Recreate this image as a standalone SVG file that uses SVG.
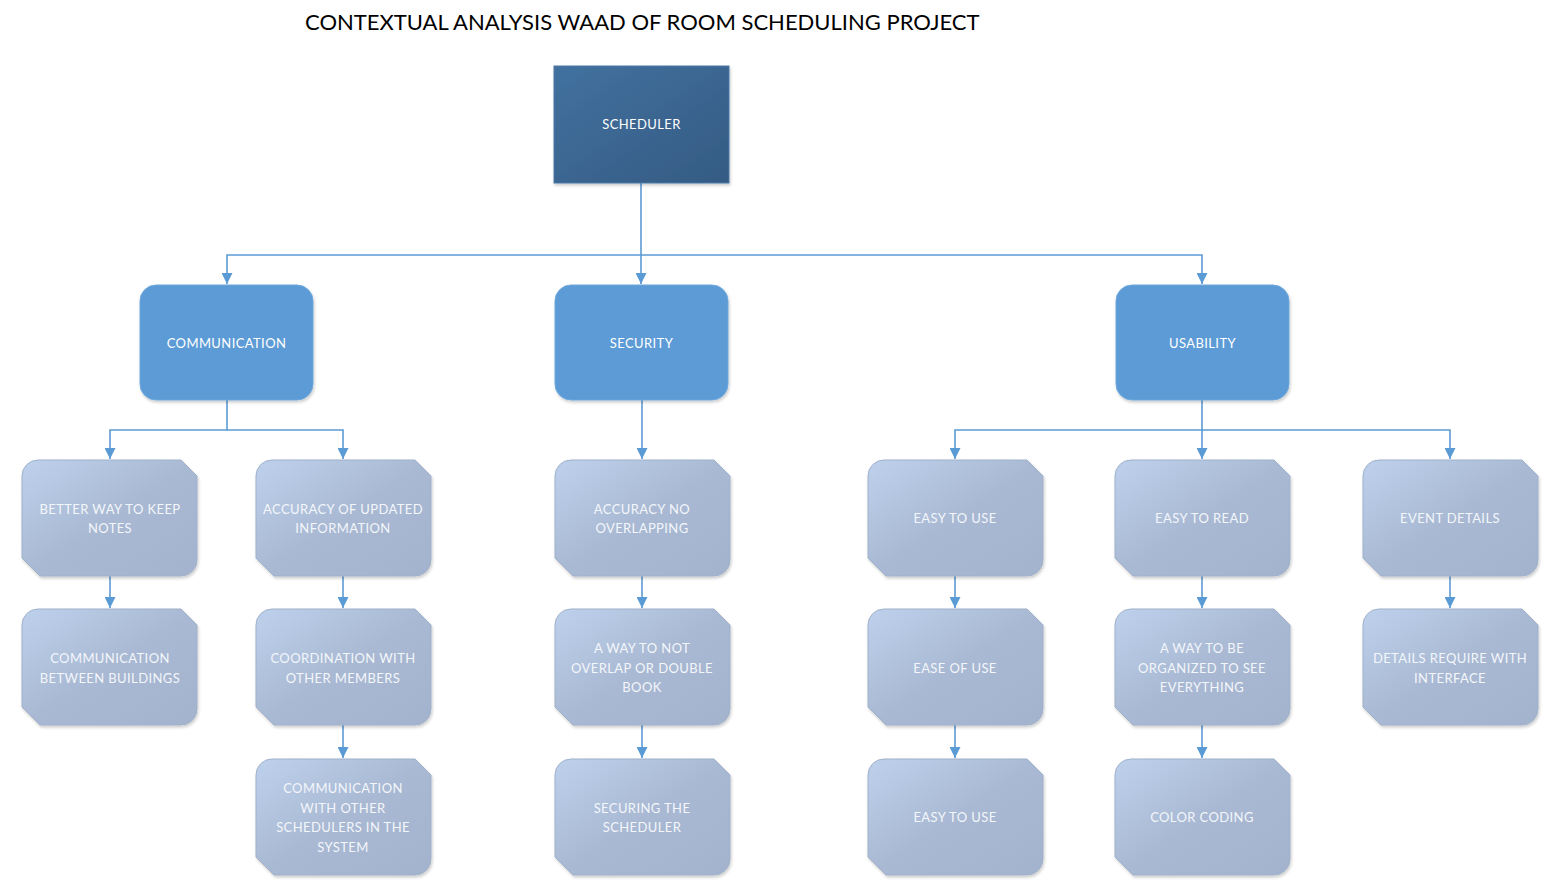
<svg xmlns="http://www.w3.org/2000/svg" width="1559" height="896" viewBox="0 0 1559 896">
<style>
.t{font-family:Lato,"Open Sans","Liberation Sans",sans-serif;font-size:13px;letter-spacing:0.4px;text-anchor:middle;fill:#f3f6fa}
.tw{fill:#ffffff}
.title{font-family:Lato,"Open Sans","Liberation Sans",sans-serif;font-size:22px;fill:#000}
.c{fill:none;stroke:#5b9bd5;stroke-width:1.6}
.g{fill:url(#gg);stroke:#a0b1ca;stroke-width:1}
.b{fill:#5b9bd5;stroke:#6ea8dc;stroke-width:1}
</style>
<defs>
<linearGradient id="gg" x1="0" y1="0" x2="1" y2="1">
<stop offset="0" stop-color="#bed1ec"/>
<stop offset="0.5" stop-color="#a9b9d3"/>
<stop offset="1" stop-color="#a3b3cd"/>
</linearGradient>
<linearGradient id="sg" x1="0" y1="0" x2="1" y2="1">
<stop offset="0" stop-color="#42719f"/>
<stop offset="1" stop-color="#345b83"/>
</linearGradient>
<filter id="sh" x="-10%" y="-10%" width="125%" height="130%">
<feDropShadow dx="1" dy="2" stdDeviation="1.5" flood-color="#000" flood-opacity="0.2"/>
</filter>
<path id="oct" d="M16,0 H159 L175,16 V100 A16,16 0 0 1 159,116 H18 L0,98 V16 A16,16 0 0 1 16,0 Z"/>
<marker id="ar" viewBox="0 0 10 10" refX="10" refY="5" markerWidth="11" markerHeight="11" markerUnits="userSpaceOnUse" orient="auto">
<path d="M0,0 L10,5 L0,10 Z" fill="#5b9bd5"/>
</marker>
</defs>
<rect width="1559" height="896" fill="#fff"/>
<text class="title" x="305" y="30">CONTEXTUAL ANALYSIS WAAD OF ROOM SCHEDULING PROJECT</text>

<g id="connectors">
<path class="c" d="M641,183 V255 H227 V284" marker-end="url(#ar)"/>
<path class="c" d="M641,255 V284" marker-end="url(#ar)"/>
<path class="c" d="M641,255 H1202 V284" marker-end="url(#ar)"/>
<path class="c" d="M227,400 V430 H110 V459" marker-end="url(#ar)"/>
<path class="c" d="M227,430 H343 V459" marker-end="url(#ar)"/>
<path class="c" d="M642,400 V459" marker-end="url(#ar)"/>
<path class="c" d="M1202,400 V430 H955 V459" marker-end="url(#ar)"/>
<path class="c" d="M1202,430 V459" marker-end="url(#ar)"/>
<path class="c" d="M1202,430 H1450 V459" marker-end="url(#ar)"/>
<path class="c" d="M110,576 V608" marker-end="url(#ar)"/>
<path class="c" d="M343,576 V608" marker-end="url(#ar)"/>
<path class="c" d="M343,725 V758" marker-end="url(#ar)"/>
<path class="c" d="M642,576 V608" marker-end="url(#ar)"/>
<path class="c" d="M642,725 V758" marker-end="url(#ar)"/>
<path class="c" d="M955,576 V608" marker-end="url(#ar)"/>
<path class="c" d="M955,725 V758" marker-end="url(#ar)"/>
<path class="c" d="M1202,576 V608" marker-end="url(#ar)"/>
<path class="c" d="M1202,725 V758" marker-end="url(#ar)"/>
<path class="c" d="M1450,576 V608" marker-end="url(#ar)"/>
</g>

<g id="scheduler">
<rect x="554" y="66" width="175" height="117" fill="url(#sg)" stroke="#4a78a6" filter="url(#sh)"/>
<text class="t tw" x="641.5" y="129">SCHEDULER</text>
</g>

<g id="communication">
<rect class="b" x="140" y="285" width="173" height="115" rx="16" filter="url(#sh)"/>
<text class="t tw" x="226.5" y="348">COMMUNICATION</text>
</g>
<g id="security">
<rect class="b" x="555" y="285" width="173" height="115" rx="16" filter="url(#sh)"/>
<text class="t tw" x="641.5" y="348">SECURITY</text>
</g>
<g id="usability">
<rect class="b" x="1116" y="285" width="173" height="115" rx="16" filter="url(#sh)"/>
<text class="t tw" x="1202.5" y="348">USABILITY</text>
</g>

<g id="better-notes">
<use href="#oct" class="g" x="22" y="460" filter="url(#sh)"/>
<text class="t" x="110" y="514">BETTER WAY TO KEEP</text>
<text class="t" x="110" y="533">NOTES</text>
</g>
<g id="comm-buildings">
<use href="#oct" class="g" x="22" y="609" filter="url(#sh)"/>
<text class="t" x="110" y="663">COMMUNICATION</text>
<text class="t" x="110" y="683">BETWEEN BUILDINGS</text>
</g>
<g id="accuracy-updated">
<use href="#oct" class="g" x="256" y="460" filter="url(#sh)"/>
<text class="t" x="343" y="514">ACCURACY OF UPDATED</text>
<text class="t" x="343" y="533">INFORMATION</text>
</g>
<g id="coordination">
<use href="#oct" class="g" x="256" y="609" filter="url(#sh)"/>
<text class="t" x="343" y="663">COORDINATION WITH</text>
<text class="t" x="343" y="683">OTHER MEMBERS</text>
</g>
<g id="comm-schedulers">
<use href="#oct" class="g" x="256" y="759" filter="url(#sh)"/>
<text class="t" x="343" y="793">COMMUNICATION</text>
<text class="t" x="343" y="813">WITH OTHER</text>
<text class="t" x="343" y="832">SCHEDULERS IN THE</text>
<text class="t" x="343" y="852">SYSTEM</text>
</g>
<g id="accuracy-no-overlap">
<use href="#oct" class="g" x="555" y="460" filter="url(#sh)"/>
<text class="t" x="642" y="514">ACCURACY NO</text>
<text class="t" x="642" y="533">OVERLAPPING</text>
</g>
<g id="no-double-book">
<use href="#oct" class="g" x="555" y="609" filter="url(#sh)"/>
<text class="t" x="642" y="653">A WAY TO NOT</text>
<text class="t" x="642" y="673">OVERLAP OR DOUBLE</text>
<text class="t" x="642" y="692">BOOK</text>
</g>
<g id="securing">
<use href="#oct" class="g" x="555" y="759" filter="url(#sh)"/>
<text class="t" x="642" y="813">SECURING THE</text>
<text class="t" x="642" y="832">SCHEDULER</text>
</g>
<g id="easy-to-use-1">
<use href="#oct" class="g" x="868" y="460" filter="url(#sh)"/>
<text class="t" x="955" y="523">EASY TO USE</text>
</g>
<g id="ease-of-use">
<use href="#oct" class="g" x="868" y="609" filter="url(#sh)"/>
<text class="t" x="955" y="673">EASE OF USE</text>
</g>
<g id="easy-to-use-2">
<use href="#oct" class="g" x="868" y="759" filter="url(#sh)"/>
<text class="t" x="955" y="822">EASY TO USE</text>
</g>
<g id="easy-to-read">
<use href="#oct" class="g" x="1115" y="460" filter="url(#sh)"/>
<text class="t" x="1202" y="523">EASY TO READ</text>
</g>
<g id="organized">
<use href="#oct" class="g" x="1115" y="609" filter="url(#sh)"/>
<text class="t" x="1202" y="653">A WAY TO BE</text>
<text class="t" x="1202" y="673">ORGANIZED TO SEE</text>
<text class="t" x="1202" y="692">EVERYTHING</text>
</g>
<g id="color-coding">
<use href="#oct" class="g" x="1115" y="759" filter="url(#sh)"/>
<text class="t" x="1202" y="822">COLOR CODING</text>
</g>
<g id="event-details">
<use href="#oct" class="g" x="1363" y="460" filter="url(#sh)"/>
<text class="t" x="1450" y="523">EVENT DETAILS</text>
</g>
<g id="details-interface">
<use href="#oct" class="g" x="1363" y="609" filter="url(#sh)"/>
<text class="t" x="1450" y="663">DETAILS REQUIRE WITH</text>
<text class="t" x="1450" y="683">INTERFACE</text>
</g>
</svg>
